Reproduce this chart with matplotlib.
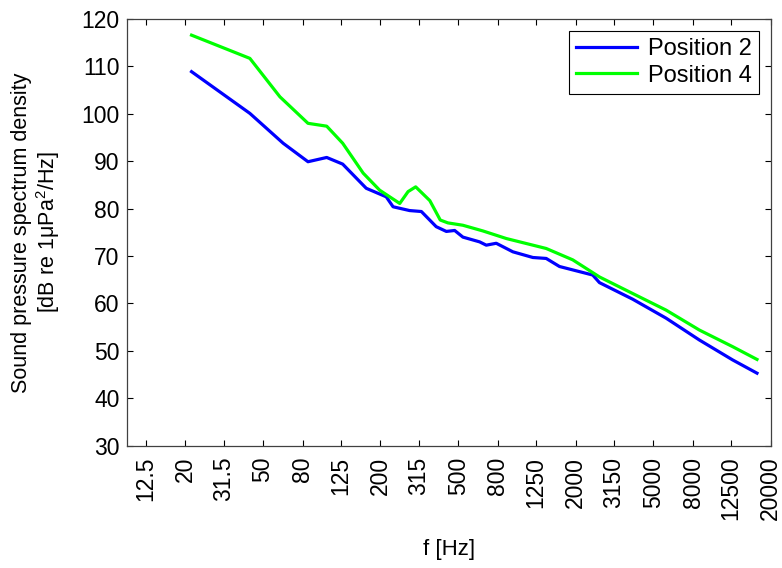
import numpy as np
import matplotlib
matplotlib.use('Agg')
import matplotlib.pyplot as plt
from matplotlib.ticker import FixedLocator, FixedFormatter, NullLocator

plt.rcParams['font.family'] = ['Liberation Sans', 'DejaVu Sans']
plt.rcParams['mathtext.fontset'] = 'custom'
plt.rcParams['mathtext.rm'] = 'Liberation Sans'

# band tick labels (1/3 octave, every second band)
tick_freqs = [12.5, 20, 31.5, 50, 80, 125, 200, 315, 500, 800, 1250,
              2000, 3150, 5000, 8000, 12500, 20000]
tick_labels = ['12.5', '20', '31.5', '50', '80', '125', '200', '315', '500',
               '800', '1250', '2000', '3150', '5000', '8000', '12500', '20000']

# Position 2 (blue)
f_pos2 = [21.5, 42.8, 63.4, 85, 106, 128, 169, 214, 232, 282, 324, 386, 435,
          480, 529, 644, 697, 784, 954, 1208, 1414, 1654, 2449, 2651, 3926,
          5822, 8620, 12760, 17020]
L_pos2 = [108.9, 100.1, 93.8, 89.9, 90.8, 89.4, 84.3, 82.5, 80.4, 79.6, 79.4,
          76.2, 75.2, 75.4, 74.0, 73.0, 72.3, 72.7, 70.9, 69.7, 69.5, 67.8,
          66.0, 64.4, 60.9, 56.9, 52.3, 48.1, 45.3]

# Position 4 (green)
f_pos4 = [21.5, 42.8, 61, 85, 106, 128, 163, 198, 251, 277, 303, 358, 405,
          443, 529, 670, 883, 1414, 1935, 2651, 3926, 5822, 8620, 12760, 17020]
L_pos4 = [116.6, 111.7, 103.6, 98.0, 97.4, 93.8, 87.5, 83.9, 81.1, 83.6, 84.6,
          81.7, 77.6, 77.0, 76.5, 75.3, 73.7, 71.6, 69.2, 65.6, 62.1, 58.6,
          54.4, 50.9, 48.2]

fig = plt.figure(figsize=(7.82, 5.68), dpi=100)
ax = fig.add_axes([0.162, 0.2153, 0.8235, 0.7512])

ax.plot(f_pos2, L_pos2, color='#0000ff', lw=2.3, label='Position 2')
ax.plot(f_pos4, L_pos4, color='#00ff00', lw=2.3, label='Position 4')

ax.set_xscale('log')
ax.set_xlim(10, 20000)
ax.set_ylim(30, 120)
ax.xaxis.set_major_locator(FixedLocator(tick_freqs))
ax.xaxis.set_major_formatter(FixedFormatter(tick_labels))
ax.xaxis.set_minor_locator(NullLocator())
ax.set_yticks(np.arange(30, 121, 10))

ax.tick_params(axis='both', direction='in', length=4.3, width=0.8,
               top=True, right=True, labelsize=16.5, colors='black')
ax.tick_params(axis='x', pad=8, labelrotation=90)
ax.tick_params(axis='y', pad=5)
for s in ax.spines.values():
    s.set_color('#404040')
    s.set_linewidth(0.9)

ax.set_xlabel('f [Hz]', fontsize=16, labelpad=13)
ax.set_ylabel('Sound pressure spectrum density\n[dB re 1μPa$^{2}$/Hz]',
              fontsize=15.5, labelpad=14, linespacing=1.1)

leg = ax.legend(loc='upper right', fontsize=17, fancybox=False,
                edgecolor='black', framealpha=1, borderaxespad=0.5,
                handlelength=2.6, handletextpad=0.45, borderpad=0.3,
                labelspacing=0.2)
leg.get_frame().set_linewidth(0.8)

fig.savefig('out.png', dpi=100)
